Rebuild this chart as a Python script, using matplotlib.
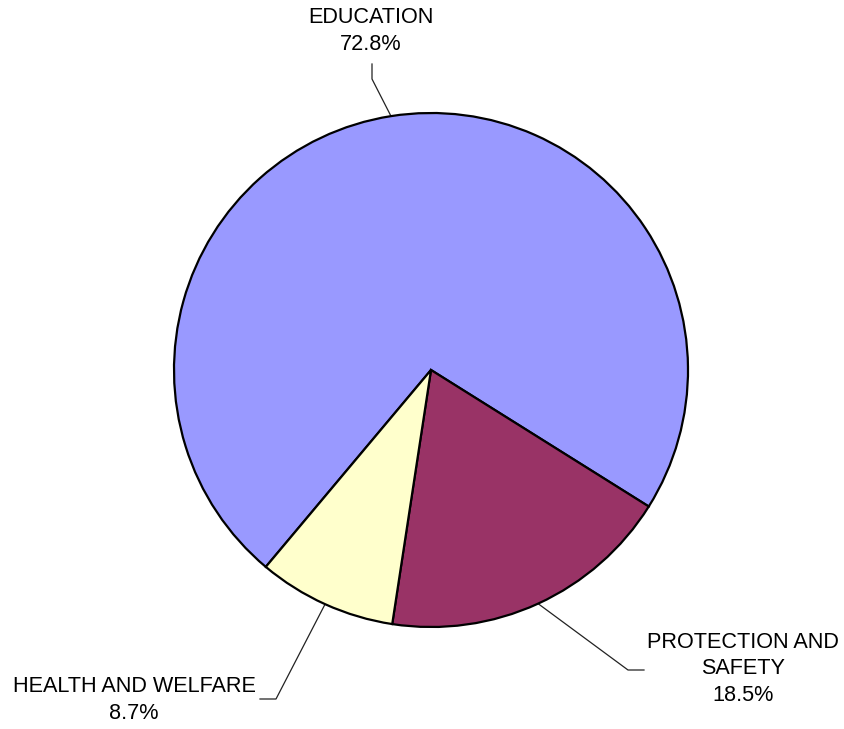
import numpy as np
import matplotlib.pyplot as plt

plt.rcParams['font.family'] = ['Liberation Sans', 'DejaVu Sans']

CATEGORIES = ['EDUCATION', 'PROTECTION AND\nSAFETY', 'HEALTH AND WELFARE']
SHARES = [72.8, 18.5, 8.7]
COLORS = ['#9999FF', '#993366', '#FFFFCC']

# label placement in pixel space (y measured from the top of the image)
LABEL_POS = [(371, 31), (743, 669), (134, 700)]
ELBOWS = [[(372, 79), (372, 64)], [(628, 670), (644, 670)], [(276, 699), (260, 699)]]

W, H = 844, 729
CENTER = (431, H - 370)
RADIUS = 257
START = 230

fig = plt.figure(figsize=(W / 100, H / 100), dpi=100)
ax = fig.add_axes([0, 0, 1, 1])

wedges, _ = ax.pie(SHARES, colors=COLORS, startangle=START, counterclock=False,
                   center=CENTER, radius=RADIUS, frame=True,
                   wedgeprops=dict(edgecolor='black', linewidth=1.6))
ax.set_xlim(0, W)
ax.set_ylim(0, H)
ax.set_aspect('equal')
ax.axis('off')

for wedge, name, share, (lx, ly), elbow in zip(wedges, CATEGORIES, SHARES, LABEL_POS, ELBOWS):
    mid = np.deg2rad((wedge.theta1 + wedge.theta2) / 2)
    ax0 = CENTER[0] + RADIUS * np.cos(mid)
    ay0 = CENTER[1] + RADIUS * np.sin(mid)
    xs = [ax0] + [p[0] for p in elbow]
    ys = [ay0] + [H - p[1] for p in elbow]
    ax.plot(xs, ys, color='#222222', lw=0.9, zorder=0.5)
    ax.text(lx, H - ly, f'{name}\n{share:.1f}%', ha='center', va='center',
            fontsize=15.6, linespacing=1.35, color='black')

fig.savefig('out.png', dpi=100)
